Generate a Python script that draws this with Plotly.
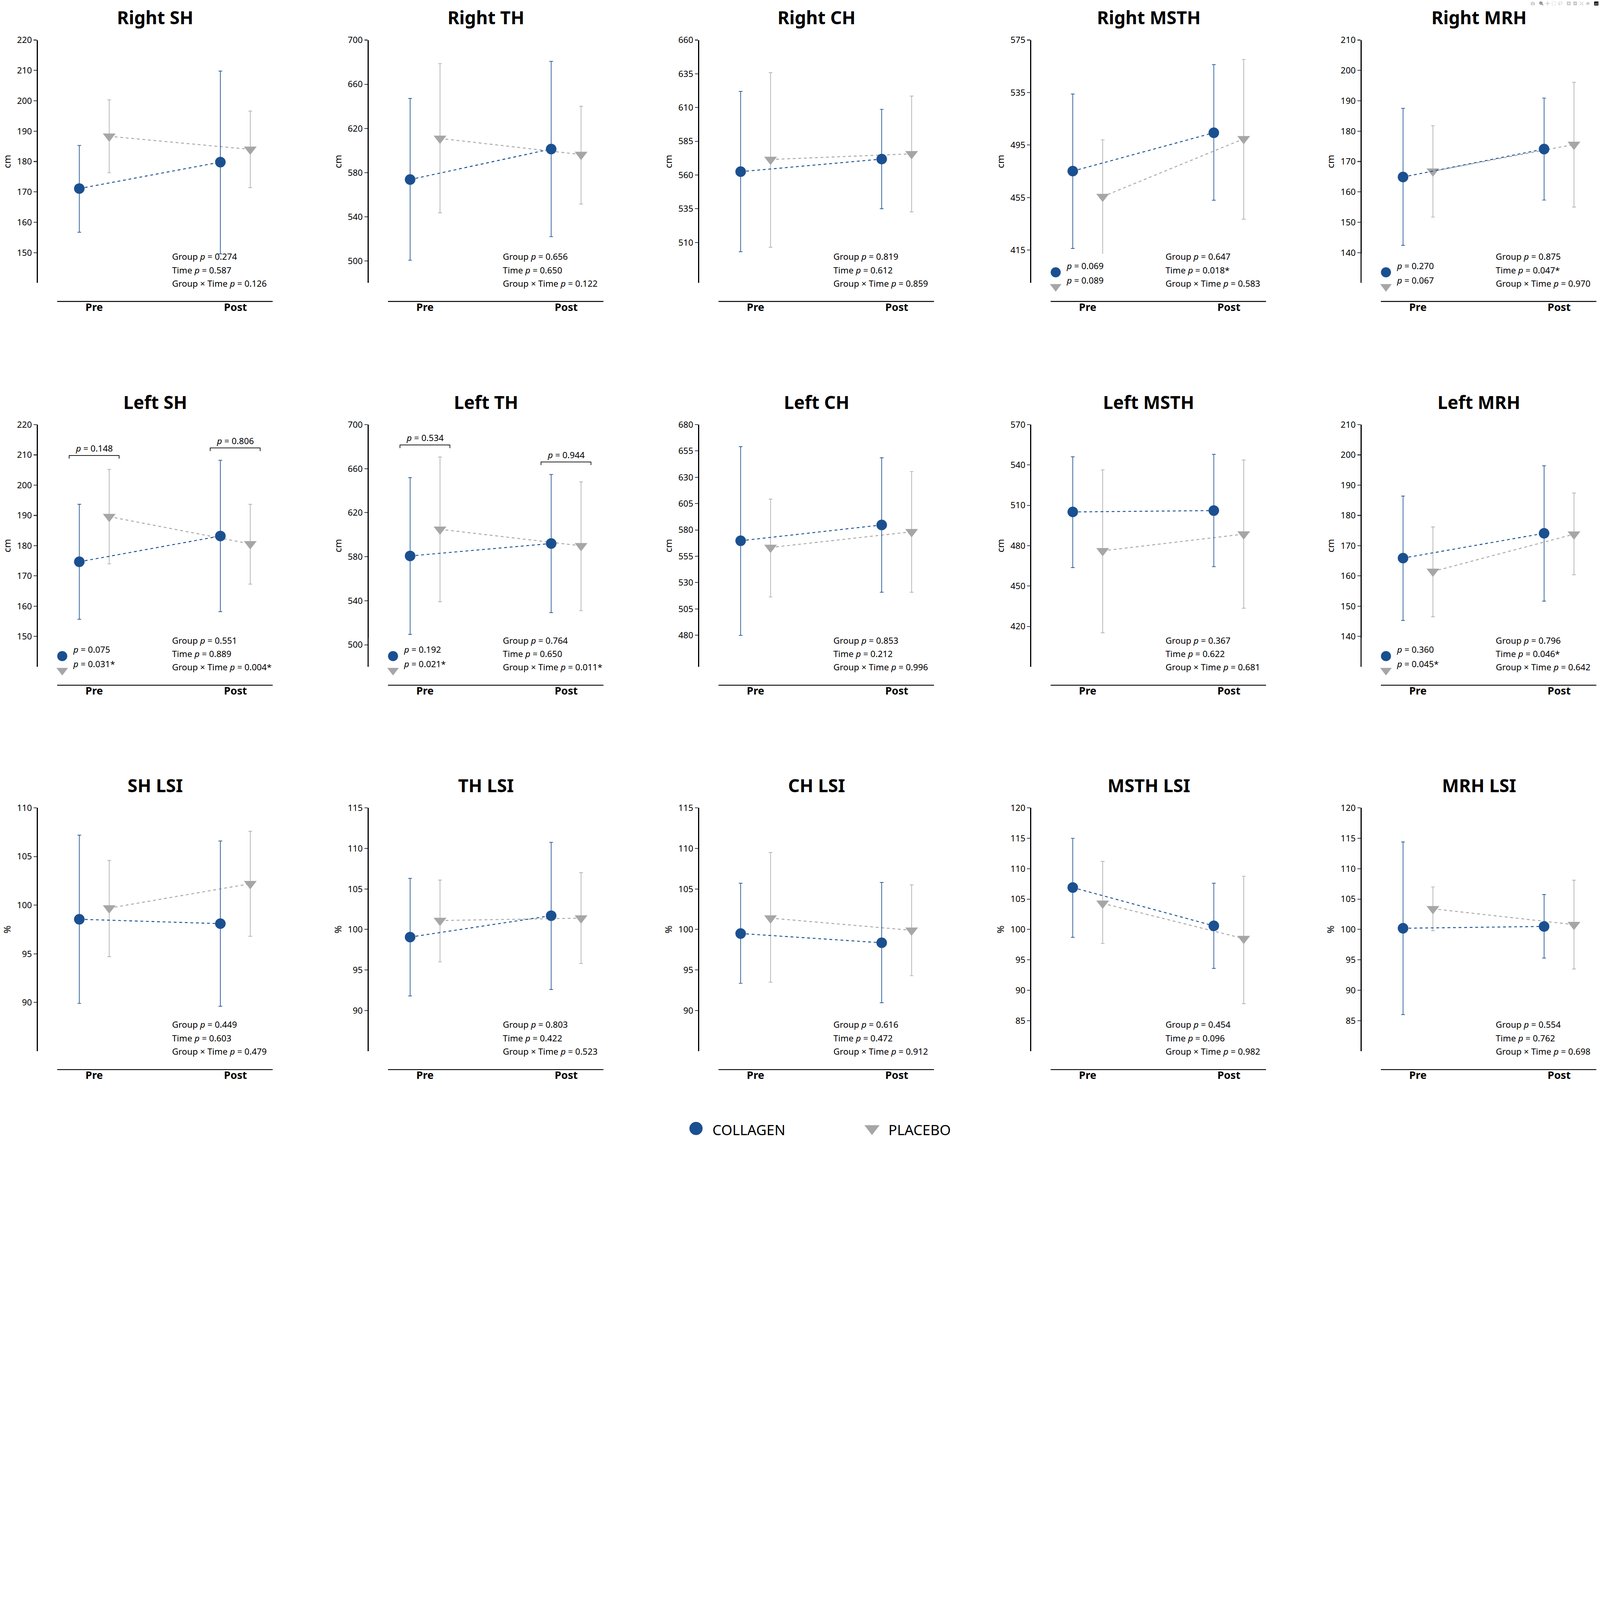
import plotly.graph_objects as go

W, H = 6046, 4307
FONT = "Noto Sans"
BLUE = "#1B5090"
GRAY = "#A6A6A6"

titles = ["Right SH", "Right TH", "Right CH", "Right MSTH", "Right MRH",
          "Left SH", "Left TH", "Left CH", "Left MSTH", "Left MRH",
          "SH LSI", "TH LSI", "CH LSI", "MSTH LSI", "MRH LSI"]
units = ["cm"] * 10 + ["%"] * 5
time_labels = ["Pre", "Post"]
y_ranges = [[140, 220], [480, 700], [480, 660], [390, 575], [130, 210],
            [140, 220], [480, 700], [450, 680], [390, 570], [130, 210],
            [85, 110], [85, 115], [85, 115], [80, 120], [80, 120]]
y_ticks = [list(range(150, 221, 10)), list(range(500, 701, 40)), list(range(510, 661, 25)),
           list(range(415, 576, 40)), list(range(140, 211, 10)),
           list(range(150, 221, 10)), list(range(500, 701, 40)), list(range(480, 681, 25)),
           list(range(420, 571, 30)), list(range(140, 211, 10)),
           list(range(90, 111, 5)), list(range(90, 116, 5)), list(range(90, 116, 5)),
           list(range(85, 121, 5)), list(range(85, 121, 5))]

col_mean = [[171.1, 179.8], [573.7, 601.3], [562.5, 571.8], [475.2, 504.4], [164.9, 174.1],
            [174.7, 183.2], [580.7, 592.0], [569.7, 584.7], [505.1, 506.1], [165.9, 174.1],
            [98.55, 98.1], [99.06, 101.7], [99.5, 98.36], [106.9, 100.6], [100.2, 100.5]]
col_lo = [[156.7, 149.6], [500.6, 521.9], [503.2, 535.0], [416.3, 453.0], [142.4, 157.3],
          [155.7, 158.2], [509.4, 529.2], [479.8, 520.8], [463.7, 464.4], [145.3, 151.7],
          [89.9, 89.6], [91.8, 92.6], [93.35, 90.96], [98.7, 93.6], [86.0, 95.3]]
col_hi = [[185.3, 209.8], [647.2, 680.7], [622.0, 608.7], [533.9, 556.3], [187.5, 190.9],
          [193.7, 208.2], [651.9, 654.7], [659.1, 648.5], [546.1, 547.9], [186.4, 196.4],
          [107.2, 106.6], [106.3, 110.75], [105.7, 105.8], [115.0, 107.6], [114.4, 105.75]]
pla_mean = [[188.3, 184.0], [610.9, 596.3], [571.5, 575.7], [455.8, 499.8], [166.8, 175.6],
            [189.6, 180.6], [604.9, 589.9], [563.3, 578.2], [476.2, 488.6], [161.5, 173.8],
            [99.7, 102.2], [101.1, 101.4], [101.4, 99.9], [104.3, 98.5], [103.4, 100.8]]
pla_lo = [[176.3, 171.4], [543.5, 551.5], [506.5, 532.7], [410.4, 438.6], [151.7, 155.0],
          [174.0, 167.3], [539.0, 530.9], [516.3, 520.8], [415.2, 433.5], [146.5, 160.4],
          [94.7, 96.8], [96.0, 95.8], [93.5, 94.3], [97.7, 87.8], [99.8, 93.5]]
pla_hi = [[200.3, 196.6], [678.7, 640.0], [635.8, 618.5], [499.0, 560.2], [181.8, 196.1],
          [205.2, 193.7], [670.6, 648.0], [609.3, 635.4], [536.4, 543.7], [176.2, 187.4],
          [104.6, 107.6], [106.1, 107.0], [109.5, 105.5], [111.2, 108.75], [107.0, 108.1]]

stats = [["0.274", "0.587", "0.126"], ["0.656", "0.650", "0.122"], ["0.819", "0.612", "0.859"],
         ["0.647", "0.018*", "0.583"], ["0.875", "0.047*", "0.970"],
         ["0.551", "0.889", "0.004*"], ["0.764", "0.650", "0.011*"], ["0.853", "0.212", "0.996"],
         ["0.367", "0.622", "0.681"], ["0.796", "0.046*", "0.642"],
         ["0.449", "0.603", "0.479"], ["0.803", "0.422", "0.523"], ["0.616", "0.472", "0.912"],
         ["0.454", "0.096", "0.982"], ["0.554", "0.762", "0.698"]]
# within-group time p-values (collagen, placebo) where shown
group_p = {3: ["0.069", "0.089"], 4: ["0.270", "0.067"], 5: ["0.075", "0.031*"],
           6: ["0.192", "0.021*"], 9: ["0.360", "0.045*"]}
# between-group p-values at Pre / Post with bracket heights
bracket_p = {5: [["0.148", 209.8], ["0.806", 212.3]], 6: [["0.534", 681.5], ["0.944", 666.1]]}

col_x_px = [143, 1393, 2642, 3897, 5145]
row_px = [[129, 1052], [1590, 2510], [3046, 3970]]
UNIT_PX = 533
XR = [-0.40, 1.265]
DW = (XR[1] - XR[0]) * UNIT_PX
OFF = 0.106

fig = go.Figure()
layout = {}
annotations = []
shapes = []
extra = 17

for i, title in enumerate(titles):
    r, c = divmod(i, 5)
    n = "" if i == 0 else str(i + 1)
    xa, ya = "x" + n, "y" + n
    x0 = col_x_px[c] / W
    x1 = (col_x_px[c] + DW) / W
    ytop = 1 - row_px[r][0] / H
    ybot = 1 - row_px[r][1] / H
    hd = ytop - ybot
    layout["xaxis" + n] = dict(domain=[x0, x1], range=XR, visible=False, anchor=ya, fixedrange=True)
    layout["yaxis" + n] = dict(domain=[ybot, ytop], range=y_ranges[i], anchor=xa,
                               tickvals=y_ticks[i], ticks="outside", ticklen=12, tickwidth=3,
                               showline=True, linewidth=3.5, linecolor="black",
                               showgrid=False, zeroline=False,
                               tickfont=dict(family=FONT, size=33, color="black"),
                               title=dict(text=units[i], font=dict(family=FONT, size=36, color="black"),
                                          standoff=14))
    for name, mean, lo, hi, color, sym, off, ecol in [
        ("PLACEBO", pla_mean[i], pla_lo[i], pla_hi[i], GRAY, "triangle-down", OFF, "#ABABAB"),
        ("COLLAGEN", col_mean[i], col_lo[i], col_hi[i], BLUE, "circle", -OFF, BLUE)]:
        xs = [t + off for t in (0, 1)]
        fig.add_trace(go.Scatter(
            x=xs, y=mean, xaxis=xa, yaxis=ya, mode="lines+markers", showlegend=False,
            line=dict(color=color, width=3.5, dash="dash"),
            marker=dict(symbol=sym, size=40 if sym == "circle" else 42, color=color),
            error_y=dict(type="data", symmetric=False,
                         array=[h - m for h, m in zip(hi, mean)],
                         arrayminus=[m - l for m, l in zip(mean, lo)],
                         color=ecol, thickness=2.5, width=7)))
    xd = xa + " domain"
    yd = ya + " domain"
    annotations.append(dict(text="<b>" + title + "</b>", xref=xd, yref=yd, x=0.5, y=1,
                            yanchor="bottom", yshift=38, showarrow=False,
                            font=dict(family=FONT, size=68, color="black")))
    for t, lab in enumerate(time_labels):
        annotations.append(dict(text="<b>" + lab + "</b>", xref=xa, yref=yd, x=t, y=-0.13,
                                showarrow=False, font=dict(family=FONT, size=40, color="black")))
    shapes.append(dict(type="line", xref=xa, yref=yd, x0=-0.263, x1=1.265, y0=-0.076, y1=-0.076,
                       line=dict(color="black", width=3.5)))
    lines = ["Group <i>p</i> = " + stats[i][0], "Time <i>p</i> = " + stats[i][1],
             "Group × Time <i>p</i> = " + stats[i][2]]
    for k, (txt, yy) in enumerate(zip(lines, [0.082, 0.027, -0.028])):
        annotations.append(dict(text=txt, xref=xa, yref=yd, x=0.548, y=yy, xanchor="left",
                                showarrow=False, font=dict(family=FONT, size=33, color="black")))
    lo_r, hi_r = y_ranges[i]
    if i in group_p:
        ka = str(extra)
        extra += 1
        layout["yaxis" + ka] = dict(domain=[ybot - 0.06 * hd, ybot + 0.12 * hd], range=[-0.06, 0.12],
                                    anchor=xa, visible=False, fixedrange=True)
        for k, (pv, frac, color, sym) in enumerate(zip(group_p[i], [0.044, -0.015], [BLUE, GRAY],
                                                       ["circle", "triangle-down"])):
            fig.add_trace(go.Scatter(x=[-0.227], y=[frac], xaxis=xa, yaxis="y" + ka,
                                     mode="markers", showlegend=False, cliponaxis=False,
                                     marker=dict(symbol=sym, size=38, color=color)))
            annotations.append(dict(text="<i>p</i> = " + pv, xref=xa, yref=yd, x=-0.155, y=frac,
                                    xanchor="left", showarrow=False,
                                    font=dict(family=FONT, size=33, color="black")))
    if i in bracket_p:
        leg = (hi_r - lo_r) * 0.013
        for t, (pv, yb) in enumerate(bracket_p[i]):
            xl, xr = t - 0.178, t + 0.176
            shapes.append(dict(type="path", xref=xa, yref=ya,
                               path=f"M {xl} {yb - leg} L {xl} {yb} L {xr} {yb} L {xr} {yb - leg}",
                               line=dict(color="black", width=2.5)))
            annotations.append(dict(text="<i>p</i> = " + pv, xref=xa, yref=ya, x=t, y=yb,
                                    yanchor="bottom", yshift=2, showarrow=False,
                                    font=dict(family=FONT, size=33, color="black")))

# bottom legend on its own invisible axis
legend_names = ["COLLAGEN", "PLACEBO"]
legend_colors = [BLUE, GRAY]
legend_symbols = ["circle", "triangle-down"]
layout["xaxis16"] = dict(domain=[0.435, 0.655], range=[0, 2], visible=False, anchor="y16")
layout["yaxis16"] = dict(domain=[0.0, 0.02], range=[0, 1], visible=False, anchor="x16")
for k, nm in enumerate(legend_names):
    fig.add_trace(go.Scatter(x=[k * 1.0 + 0.0], y=[0.5], xaxis="x16", yaxis="y16", mode="markers",
                             showlegend=False, cliponaxis=False,
                             marker=dict(symbol=legend_symbols[k], size=50, color=legend_colors[k])))
    annotations.append(dict(text=nm, xref="x16", yref="y16", x=k * 1.0 + 0.09, y=0.45,
                            xanchor="left", showarrow=False,
                            font=dict(family=FONT, size=54, color="black")))

fig.update_layout(**layout)
fig.update_layout(width=W, height=H, margin=dict(l=0, r=0, t=0, b=0),
                  paper_bgcolor="white", plot_bgcolor="white",
                  annotations=annotations, shapes=shapes, showlegend=False)

post = ("var gd=document.getElementById('{plot_id}');document.body.style.margin='0';"
        "var s=Math.min(window.innerWidth/%d, window.innerHeight/%d, 1);"
        "if(s<1){gd.style.transform='scale('+s+')';gd.style.transformOrigin='0 0';"
        "document.body.style.overflow='hidden';}" % (W, H))
fig.write_html("out.html", post_script=post)
